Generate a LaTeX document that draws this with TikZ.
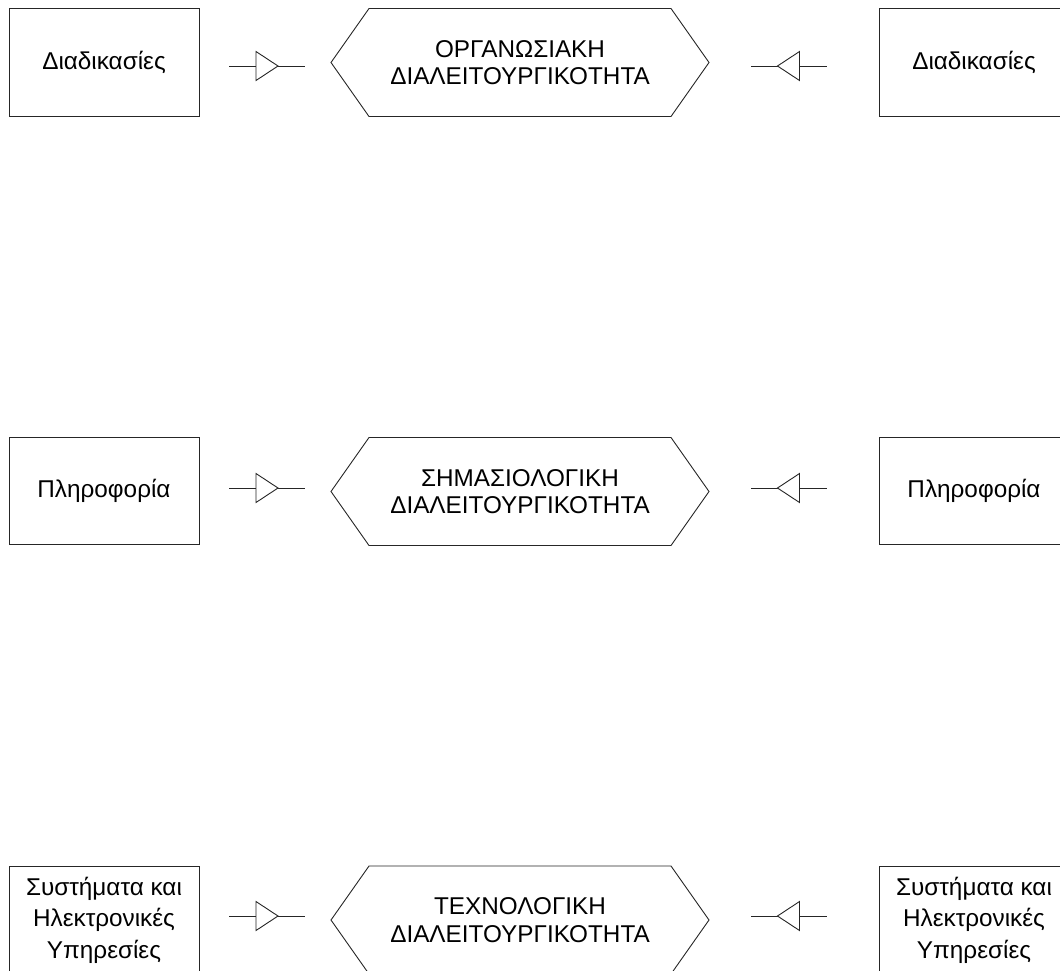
\documentclass[tikz,border=0pt]{standalone}
\usepackage{fontspec}
\setmainfont{Liberation Sans}
\begin{document}
\begin{tikzpicture}[x=1pt,y=-1pt,
  outline/.style={draw=black!85,line width=0.9pt},
  srcbox/.style={outline,minimum width=190pt,minimum height=107.5pt,inner sep=0pt,
    align=center,font=\fontsize{24.3}{31.5}\selectfont},
  hextext/.style={align=center,inner sep=0pt,font=\fontsize{24.3}{27.5}\selectfont},
  pics/valve/.style={code={
    \draw[outline] (-38,0) -- (38,0);
    \draw[outline,fill=white] (-11,-14.5) -- (11,0) -- (-11,14.5) -- cycle;}},
  pics/hexa/.style={code={
    \draw[outline] (-189,0) -- (-151,-54) -- (151,-54) -- (189,0) -- (151,54) -- (-151,54) -- cycle;}}
]
\useasboundingbox (0,0) rectangle (1060,970);
\clip (0,0) rectangle (1060,970);

% organisational row
\node[srcbox] (procL) at (104,62.5) {Διαδικασίες};
\node[srcbox] (procR) at (974,62.5) {Διαδικασίες};
\pic at (520,62.5) {hexa};
\node[hextext] (org) at (520,62.5) {ΟΡΓΑΝΩΣΙΑΚΗ\\ΔΙΑΛΕΙΤΟΥΡΓΙΚΟΤΗΤΑ};
\pic at (267,66) {valve};
\pic[rotate=180] at (788.5,66) {valve};

% semantic row
\node[srcbox] (infoL) at (104,491) {Πληροφορία};
\node[srcbox] (infoR) at (974,491) {Πληροφορία};
\pic at (520,491.5) {hexa};
\node[hextext] (sem) at (520,491.5) {ΣΗΜΑΣΙΟΛΟΓΙΚΗ\\ΔΙΑΛΕΙΤΟΥΡΓΙΚΟΤΗΤΑ};
\pic at (267,488) {valve};
\pic[rotate=180] at (788.5,488) {valve};

% technological row
\node[srcbox] (sysL) at (104,920) {Συστήματα και\\Ηλεκτρονικές\\Υπηρεσίες};
\node[srcbox] (sysR) at (974,920) {Συστήματα και\\Ηλεκτρονικές\\Υπηρεσίες};
\pic at (520,920) {hexa};
\node[hextext] (tech) at (520,920) {ΤΕΧΝΟΛΟΓΙΚΗ\\ΔΙΑΛΕΙΤΟΥΡΓΙΚΟΤΗΤΑ};
\pic at (267,916) {valve};
\pic[rotate=180] at (788.5,916) {valve};
\end{tikzpicture}
\end{document}
